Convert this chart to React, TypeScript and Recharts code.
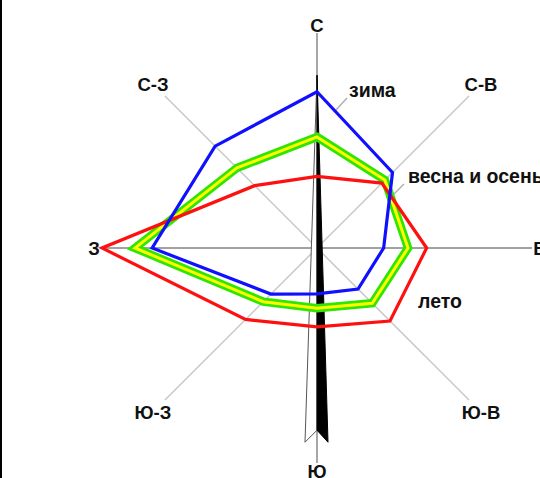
import React from 'react';
import { RadarChart, Radar, PolarGrid, PolarAngleAxis, PolarRadiusAxis, Customized } from 'recharts';

// румбы, по часовой стрелке от севера
const directions = ['С', 'С-В', 'В', 'Ю-В', 'Ю', 'Ю-З', 'З', 'С-З'];

// повторяемость ветра, %
const winter = [21.8, 14.9, 9.3, 8.1, 6.4, 9.1, 23.0, 20.1];
const springAutumn = [15.5, 13.4, 12.7, 10.9, 8.4, 10.6, 25.4, 15.8];
const summer = [10.0, 12.8, 15.3, 14.4, 11.0, 14.1, 30.0, 12.3];

// стрелка преобладающего направления: острие на севере, хвост на юге
const arrowHead = [24.1];
const arrowTail = [27.1];

const MAX = 30;
const CX = 317;
const CY = 248;
const OUTER = 215;

const FONT = '"Liberation Sans", Arial, sans-serif';

const data = directions.map((dir, i) => ({
  dir,
  winter: winter[i],
  springAutumn: springAutumn[i],
  summer: summer[i],
}));

const renderTick = (props: any) => {
  const { x, y, payload } = props;
  const dx = x - CX;
  const dy = y - CY;
  const len = Math.hypot(dx, dy) || 1;
  const diag = String(payload.value).includes('-');
  const r = diag ? OUTER + 17 : OUTER + 8;
  return (
    <text
      x={CX + (dx / len) * r}
      y={CY + (dy / len) * r}
      dy="0.36em"
      textAnchor="middle"
      fontFamily={FONT}
      fontWeight="bold"
      fontSize={18.5}
      fill="#111"
    >
      {payload.value}
    </text>
  );
};

const WindArrow = () => {
  const k = OUTER / MAX;
  const topY = CY - arrowHead[0] * k;
  const botY = CY + arrowTail[0] * k;
  const notchY = botY - 12;
  return (
    <g>
      <polygon
        points={`${CX},${topY} ${CX - 12},${botY} ${CX},${notchY}`}
        fill="#fff"
        stroke="#555"
        strokeWidth={1}
      />
      <polygon points={`${CX},${topY} ${CX + 11},${botY} ${CX},${notchY}`} fill="#000" stroke="#000" strokeWidth={1} />
    </g>
  );
};

const Notes = () => (
  <g fontFamily={FONT} fontWeight="bold" fontSize={19.5} fill="#111">
    <line x1={335} y1={111} x2={347} y2={98} stroke="#b0b0b0" strokeWidth={1.5} />
    <text x={349} y={97}>зима</text>
    <line x1={394} y1={194} x2={404} y2={184} stroke="#b0b0b0" strokeWidth={1.5} />
    <text x={408} y={183}>весна и осень</text>
    <text x={418} y={308}>лето</text>
  </g>
);

export default function App() {
  return (
    <div style={{ position: 'absolute', left: 0, top: 0, width: 540, height: 478, background: '#fff', overflow: 'hidden' }}>
      <div style={{ position: 'absolute', left: 0, top: 0, width: 2, height: 478, background: '#000' }} />
      <RadarChart width={540} height={478} cx={CX} cy={CY} outerRadius={OUTER} data={data} startAngle={90} endAngle={-270}>
        <PolarGrid polarAngles={[45, 135, 225, 315]} polarRadius={[]} stroke="#c8c8c8" strokeWidth={1.5} />
        <PolarGrid polarAngles={[90, 270]} polarRadius={[]} stroke="#8a8a8a" strokeWidth={1.5} />
        <PolarGrid polarAngles={[0, 180]} polarRadius={[]} stroke="#444" strokeWidth={1} />
        <PolarAngleAxis dataKey="dir" axisLine={false} tickLine={false} tick={renderTick} />
        <PolarRadiusAxis domain={[0, MAX]} tick={false} axisLine={false} />
        <Radar dataKey="springAutumn" stroke="#2ee600" strokeWidth={8.5} fill="none" isAnimationActive={false} />
        <Radar dataKey="springAutumn" stroke="#ffff00" strokeWidth={3} fill="none" isAnimationActive={false} />
        <Radar dataKey="summer" stroke="#ff1010" strokeWidth={3.2} fill="none" isAnimationActive={false} />
        <Radar dataKey="winter" stroke="#1010ff" strokeWidth={3.2} fill="none" isAnimationActive={false} />
        <Customized component={<WindArrow />} />
        <Customized component={<Notes />} />
      </RadarChart>
    </div>
  );
}
